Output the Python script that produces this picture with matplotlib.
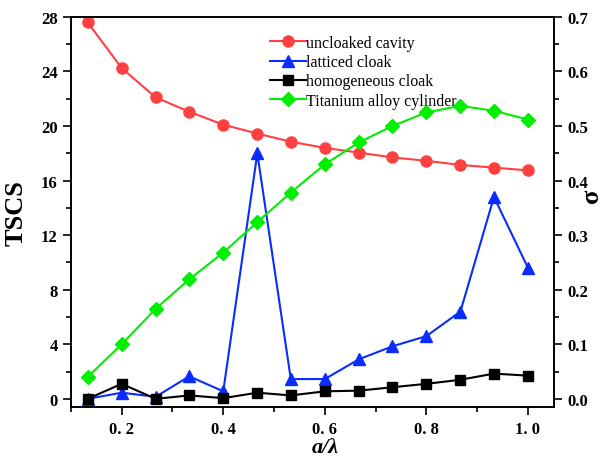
import numpy as np
import matplotlib
matplotlib.use('Agg')
import matplotlib.pyplot as plt

# a/lambda sample points and the four curves
ratio = [0.133, 0.2, 0.267, 0.333, 0.4, 0.467, 0.533, 0.6, 0.667, 0.733, 0.8, 0.867, 0.933, 1.0]
uncloaked = [27.6, 24.25, 22.1, 21.05, 20.1, 19.45, 18.85, 18.4, 18.05, 17.7, 17.45, 17.15, 16.95, 16.75]
latticed = [0.0, 0.45, 0.15, 1.65, 0.55, 18.0, 1.45, 1.45, 2.9, 3.85, 4.6, 6.4, 14.8, 9.6]
homogeneous = [0.0, 1.1, 0.0, 0.25, 0.05, 0.45, 0.25, 0.55, 0.6, 0.85, 1.1, 1.4, 1.85, 1.7]
titanium = [0.040, 0.100, 0.165, 0.219, 0.268, 0.324, 0.378, 0.430, 0.470, 0.500, 0.525, 0.537, 0.528, 0.512]

plt.rcParams['font.family'] = ['Liberation Serif', 'DejaVu Serif']

fig = plt.figure(figsize=(6.06, 4.6), dpi=100)
ax = fig.add_axes([0.117, 0.113, 0.797, 0.848])
ax2 = ax.twinx()

l1, = ax.plot(ratio, uncloaked, '-o', color='#ff4040', ms=8, lw=1.5, label='uncloaked cavity')
l2, = ax.plot(ratio, latticed, '-^', color='#0a2cff', ms=8.5, lw=1.5, label='latticed cloak')
l3, = ax.plot(ratio, homogeneous, '-s', color='black', ms=7, lw=1.5, label='homogeneous cloak')
l4, = ax2.plot(ratio, titanium, '-D', color='#00ee00', ms=7, lw=1.5, label='Titanium alloy cylinder')

ax.set_xlim(0.1, 1.051)
ax.set_ylim(-0.6, 28)
ax2.set_ylim(-0.015, 0.7)

ax.set_xticks([0.2, 0.4, 0.6, 0.8, 1.0])
ax.set_xticklabels(['0. 2', '0. 4', '0. 6', '0. 8', '1. 0'])
ax.set_xticks(np.arange(0.1, 1.05, 0.1), minor=True)
ax.set_yticks(np.arange(0, 29, 4))
ax.set_yticks(np.arange(2, 28, 4), minor=True)
ax2.set_yticks(np.arange(0, 0.71, 0.1))
ax2.set_yticklabels(['%.1f' % v for v in np.arange(0, 0.71, 0.1)])
ax2.set_yticks(np.arange(0.05, 0.7, 0.1), minor=True)

for a in (ax, ax2):
    a.tick_params(which='major', direction='out', length=6, width=1.2, labelsize=12)
    a.tick_params(which='minor', direction='out', length=3.5, width=1.2)
    for s in a.spines.values():
        s.set_linewidth(1.2)
    for lab in a.get_xticklabels() + a.get_yticklabels():
        lab.set_fontweight('bold')
ax.tick_params(axis='x', pad=4)

fig.text(0.536, 0.025, 'a/λ', fontsize=16, fontweight='bold', fontstyle='italic',
         ha='center', va='center')
ax.set_ylabel('TSCS', fontsize=19, fontweight='bold', labelpad=10)
fig.text(0.976, 0.575, 'σ', fontsize=19, fontweight='bold', rotation=90,
         va='center', ha='center')

ax.legend(handles=[l1, l2, l3, l4], loc='upper left', bbox_to_anchor=(0.4, 0.97),
          frameon=False, fontsize=11.5, handlelength=2.2, handletextpad=0.0,
          labelspacing=0.2, borderaxespad=0)

fig.savefig('out.png', dpi=100)
